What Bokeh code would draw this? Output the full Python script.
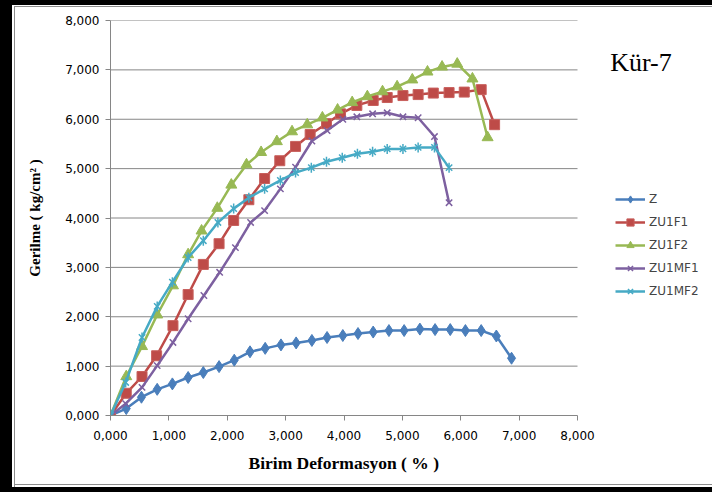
from bokeh.plotting import figure
from bokeh.models import Legend, LegendItem, Label, FixedTicker, Title
from bokeh.embed import file_html
from bokeh.resources import INLINE
import math

# ---- data (x: Birim Deformasyon %, y: Gerilme, axis units 0..8) ----
z_x = [0, 0.27, 0.53, 0.80, 1.06, 1.33, 1.59, 1.86, 2.12, 2.39, 2.65, 2.92, 3.18,
       3.45, 3.71, 3.98, 4.24, 4.50, 4.77, 5.03, 5.30, 5.56, 5.82, 6.08, 6.35, 6.61, 6.87]
z_y = [0, 0.14, 0.37, 0.53, 0.64, 0.77, 0.87, 0.99, 1.12, 1.29, 1.36, 1.43, 1.47,
       1.52, 1.58, 1.62, 1.66, 1.69, 1.72, 1.72, 1.75, 1.74, 1.74, 1.72, 1.72, 1.61, 1.16]

f1_x = [0, 0.27, 0.54, 0.79, 1.07, 1.33, 1.59, 1.86, 2.11, 2.37, 2.64, 2.90, 3.17,
        3.42, 3.70, 3.94, 4.22, 4.50, 4.74, 5.01, 5.27, 5.53, 5.80, 6.06, 6.35, 6.58]
f1_y = [0, 0.45, 0.79, 1.21, 1.82, 2.45, 3.06, 3.48, 3.95, 4.37, 4.80, 5.16, 5.45,
        5.69, 5.91, 6.11, 6.28, 6.38, 6.44, 6.48, 6.50, 6.53, 6.54, 6.55, 6.60, 5.89]

f2_x = [0, 0.27, 0.54, 0.80, 1.07, 1.33, 1.56, 1.83, 2.07, 2.33, 2.58, 2.85, 3.11,
        3.37, 3.63, 3.89, 4.14, 4.40, 4.66, 4.91, 5.17, 5.43, 5.68, 5.94, 6.20, 6.46]
f2_y = [0, 0.79, 1.40, 2.04, 2.63, 3.26, 3.74, 4.20, 4.67, 5.08, 5.33, 5.55, 5.75,
        5.89, 6.03, 6.19, 6.34, 6.46, 6.56, 6.66, 6.80, 6.96, 7.06, 7.12, 6.82, 5.63]

mf1_x = [0, 0.26, 0.54, 0.80, 1.07, 1.33, 1.60, 1.87, 2.14, 2.40, 2.64, 2.91, 3.17,
         3.45, 3.71, 3.98, 4.22, 4.49, 4.74, 5.01, 5.27, 5.55, 5.80]
mf1_y = [0, 0.24, 0.57, 1.01, 1.48, 1.96, 2.43, 2.90, 3.40, 3.91, 4.15, 4.59, 5.03,
         5.56, 5.77, 6.00, 6.05, 6.11, 6.13, 6.05, 6.03, 5.65, 4.31]

mf2_x = [0, 0.26, 0.54, 0.80, 1.06, 1.33, 1.59, 1.84, 2.11, 2.37, 2.64, 2.91, 3.17,
         3.44, 3.70, 3.97, 4.23, 4.49, 4.74, 5.01, 5.27, 5.55, 5.80]
mf2_y = [0, 0.67, 1.58, 2.21, 2.70, 3.20, 3.54, 3.91, 4.19, 4.41, 4.59, 4.76, 4.92,
         5.02, 5.14, 5.22, 5.30, 5.34, 5.40, 5.40, 5.43, 5.43, 5.02]

series_names = ["Z", "ZU1F1", "ZU1F2", "ZU1MF1", "ZU1MF2"]
x_ticks = [0, 1, 2, 3, 4, 5, 6, 7, 8]
y_ticks = [0, 1, 2, 3, 4, 5, 6, 7, 8]
tick_labels = ["0,000", "1,000", "2,000", "3,000", "4,000", "5,000", "6,000", "7,000", "8,000"]
chart_label = "Kür-7"
x_title = "Birim Deformasyon ( % )"
y_title = "Gerilme ( kg/cm² )"

colors = ["#4A7EBB", "#BE4B48", "#98B954", "#7D60A0", "#46AAC5"]

# canvas sits inside a 12px/5px black border; frame spans 98..700 (canvas px),
# and the data span 0..8 covers 467 px of it
FRAME_W = 602
AXIS_W = 467
x_end = x_ticks[-1] * FRAME_W / AXIS_W

p = figure(width=712, height=492, output_backend="svg", toolbar_location=None,
           x_range=(0, x_end), y_range=(0, 8),
           min_border_left=98, min_border_right=12, min_border_top=15, min_border_bottom=82)
p.outline_line_color = None
p.background_fill_color = "white"
p.border_fill_alpha = 0
p.styles = {
    "box-sizing": "border-box",
    "border-left": "12px solid black",
    "border-top": "5px solid black",
    "border-bottom": "5px solid black",
    "background": "white",
    "box-shadow": "inset 2px 1px 0 0 white, inset 3px 2px 0 0 #8C8C8C, "
                  "inset 0 -2px 0 0 white, inset 0 -3px 0 0 #8C8C8C",
}

grey = "#868686"
for ax in (p.xaxis[0], p.yaxis[0]):
    ax.axis_line_color = grey
    ax.major_tick_line_color = grey
    ax.minor_tick_line_color = None
    ax.major_tick_out = 5
    ax.major_tick_in = 0
    ax.major_label_text_font = "DejaVu Sans"
    ax.major_label_text_font_size = "12px"
    ax.major_label_text_color = "#000000"
    ax.axis_label_text_font = "Liberation Serif"
    ax.axis_label_text_font_style = "bold"
    ax.axis_label_text_color = "#000000"

p.xaxis.bounds = (x_ticks[0], x_ticks[-1])
p.xaxis.ticker = FixedTicker(ticks=x_ticks)
p.yaxis.ticker = FixedTicker(ticks=y_ticks)
p.xaxis.major_label_overrides = {t: l for t, l in zip(x_ticks, tick_labels)}
p.yaxis.major_label_overrides = {t: l for t, l in zip(y_ticks, tick_labels)}
p.yaxis.axis_label = y_title
p.yaxis.axis_label_text_font_size = "15px"
p.xaxis.major_label_standoff = 10
p.yaxis.major_label_standoff = 6
p.yaxis.axis_label_standoff = 19

# x-axis title centred under the 0..8 span (not the whole frame)
p.add_layout(Title(text=x_title, align="left", offset=138, standoff=16,
                   text_font="Liberation Serif", text_font_style="bold",
                   text_font_size="17.5px", text_color="#000000"), "below")

p.xgrid.grid_line_color = None
p.ygrid.grid_line_color = None
# horizontal gridlines across the 0..8 extent
gy = y_ticks[1:]
p.segment(x0=[x_ticks[0]] * len(gy), x1=[x_ticks[-1]] * len(gy), y0=gy, y1=gy,
          line_color=grey, line_width=1)

lw = 2.5
items = []
r1 = p.line(z_x, z_y, line_color=colors[0], line_width=lw)
m1 = p.scatter(z_x, z_y, marker="diamond", size=12, fill_color=colors[0], line_color=colors[0])
items.append(LegendItem(label=series_names[0], renderers=[r1, m1]))

r2 = p.line(f1_x, f1_y, line_color=colors[1], line_width=lw)
m2 = p.scatter(f1_x, f1_y, marker="square", size=10, fill_color=colors[1], line_color="#C8605D")
items.append(LegendItem(label=series_names[1], renderers=[r2, m2]))

r3 = p.line(f2_x, f2_y, line_color=colors[2], line_width=lw)
m3 = p.scatter(f2_x, f2_y, marker="triangle", size=11, fill_color=colors[2], line_color=colors[2])
items.append(LegendItem(label=series_names[2], renderers=[r3, m3]))

r4 = p.line(mf1_x, mf1_y, line_color=colors[3], line_width=lw)
m4 = p.scatter(mf1_x, mf1_y, marker="x", size=9, line_color=colors[3], line_width=1.5)
items.append(LegendItem(label=series_names[3], renderers=[r4, m4]))

r5 = p.line(mf2_x, mf2_y, line_color=colors[4], line_width=lw)
m5 = p.scatter(mf2_x, mf2_y, marker="x", size=9, line_color=colors[4], line_width=1.5)
m5b = p.scatter(mf2_x, mf2_y, marker="dash", size=10, angle=math.pi / 2,
                line_color=colors[4], line_width=1.5)
items.append(LegendItem(label=series_names[4], renderers=[r5, m5, m5b]))

legend = Legend(items=items, location=(505, 115), padding=0, margin=0,
                glyph_width=30, glyph_height=18, label_height=18, spacing=5,
                label_standoff=4, label_text_font="DejaVu Sans",
                label_text_font_size="12px", border_line_alpha=0,
                background_fill_alpha=0)
p.add_layout(legend, "center")

p.add_layout(Label(x=8.56, y=7.15, text=chart_label,
                   text_font="Liberation Serif", text_font_size="26px",
                   text_baseline="alphabetic", text_color="#000000"))

open("out.html", "w").write(file_html(p, INLINE))
